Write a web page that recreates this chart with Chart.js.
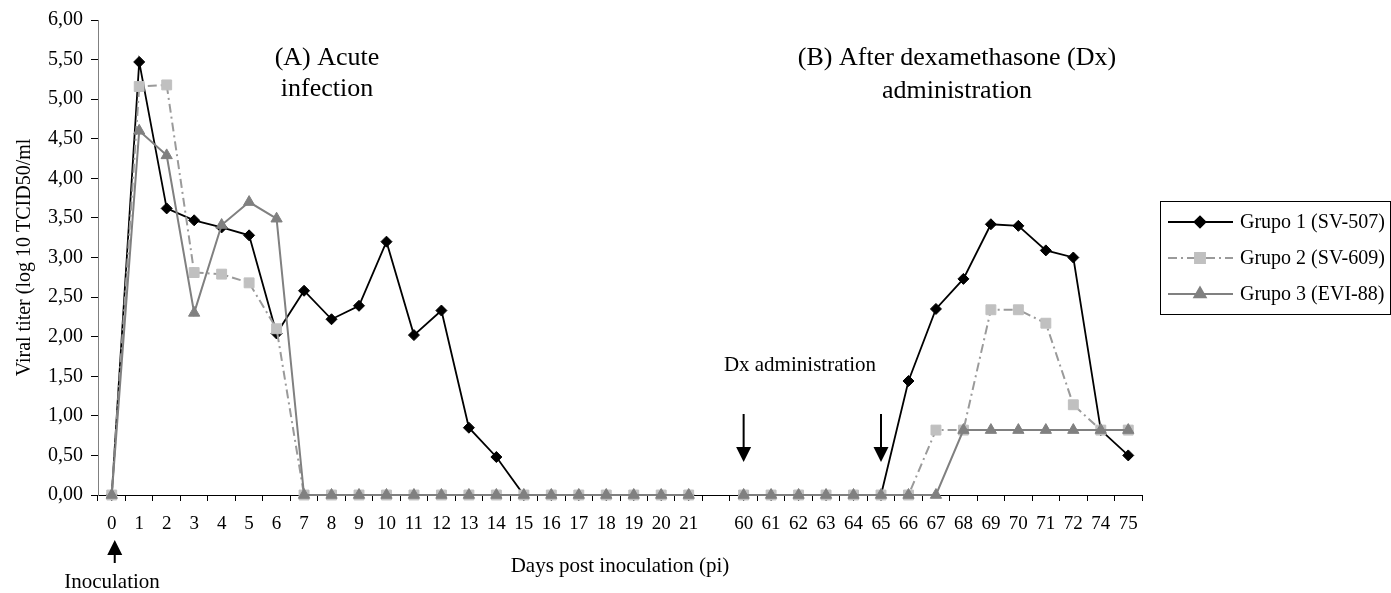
<!DOCTYPE html>
<html>
<head>
<meta charset="utf-8">
<script src="https://cdn.jsdelivr.net/npm/chart.js@4.4.0/dist/chart.umd.min.js"></script>
<style>
  html, body { margin: 0; padding: 0; background: #fff; }
</style>
</head>
<body>
<canvas id="titerChart" width="1391" height="593"></canvas>
<script>
// days post inoculation (empty slot = break between 21 and 60)
const dias = ['0','1','2','3','4','5','6','7','8','9','10','11','12','13','14','15','16','17','18','19','20','21',
              '','60','61','62','63','64','65','66','67','68','69','70','71','72','74','75'];

const grupo1 = [0, 5.47, 3.62, 3.47, 3.38, 3.28, 2.04, 2.58, 2.22, 2.39, 3.20, 2.02, 2.33, 0.85, 0.48, 0, 0, 0, 0, 0, 0, 0,
                null, 0, 0, 0, 0, 0, 0, 1.44, 2.35, 2.73, 3.42, 3.40, 3.09, 3.00, 0.82, 0.50];
const grupo2 = [0, 5.16, 5.18, 2.81, 2.79, 2.68, 2.10, 0, 0, 0, 0, 0, 0, 0, 0, 0, 0, 0, 0, 0, 0, 0,
                null, 0, 0, 0, 0, 0, 0, 0, 0.82, 0.82, 2.34, 2.34, 2.17, 1.14, 0.82, 0.82];
const grupo3 = [0, 4.60, 4.29, 2.30, 3.41, 3.70, 3.49, 0, 0, 0, 0, 0, 0, 0, 0, 0, 0, 0, 0, 0, 0, 0,
                null, 0, 0, 0, 0, 0, 0, 0, 0, 0.82, 0.82, 0.82, 0.82, 0.82, 0.82, 0.82];

const yTickLabels = ['0,00','0,50','1,00','1,50','2,00','2,50','3,00','3,50','4,00','4,50','5,00','5,50','6,00'];

const FONT = "'Liberation Serif', 'Times New Roman', serif";

// texts, arrows and boxed legend
const overlay = {
    id: 'overlay',
    afterDraw(chart) {
        const ctx = chart.ctx;
        const xs = chart.scales.x;
        ctx.save();
        ctx.fillStyle = '#000';
        ctx.textAlign = 'center';
        ctx.textBaseline = 'middle';

        ctx.font = '26px ' + FONT;
        ctx.fillText('(A) Acute', 327, 58);
        ctx.fillText('infection', 327, 89);
        ctx.fillText('(B) After dexamethasone (Dx)', 957, 58);
        ctx.fillText('administration', 957, 91);

        ctx.font = '21px ' + FONT;
        ctx.fillText('Dx administration', 800, 365);
        ctx.fillText('Inoculation', 112, 582);

        function arrow(px, tip, tail) {
            const dir = tip > tail ? 1 : -1;
            const head = 15;
            ctx.strokeStyle = '#000';
            ctx.lineWidth = 2;
            ctx.beginPath();
            ctx.moveTo(px, tail);
            ctx.lineTo(px, tip - dir * head);
            ctx.stroke();
            ctx.beginPath();
            ctx.moveTo(px - 7.5, tip - dir * head);
            ctx.lineTo(px + 7.5, tip - dir * head);
            ctx.lineTo(px, tip);
            ctx.closePath();
            ctx.fill();
        }
        arrow(xs.getPixelForValue(dias.indexOf('60')), 462, 414);
        arrow(xs.getPixelForValue(dias.indexOf('65')), 462, 414);
        arrow(xs.getPixelForValue(0) + 3, 540, 563);

        // legend
        const lx = 1160, ly = 201, lw = 230, lh = 113;
        ctx.lineWidth = 1;
        ctx.strokeStyle = '#000';
        ctx.strokeRect(lx + 0.5, ly + 0.5, lw, lh);
        ctx.textAlign = 'left';
        ctx.font = '20px ' + FONT;
        chart.data.datasets.forEach((ds, i) => {
            const ry = 222 + i * 36;
            ctx.strokeStyle = ds.borderColor;
            ctx.lineWidth = ds.borderWidth;
            ctx.setLineDash(ds.borderDash || []);
            ctx.beginPath();
            ctx.moveTo(1168, ry);
            ctx.lineTo(1233, ry);
            ctx.stroke();
            ctx.setLineDash([]);
            ctx.fillStyle = ds.pointBackgroundColor;
            ctx.strokeStyle = ds.pointBorderColor;
            Chart.helpers.drawPoint(ctx, { pointStyle: ds.pointStyle, radius: ds.pointRadius, borderWidth: 1, rotation: 0 }, 1200, ry);
            ctx.fillStyle = '#000';
            ctx.fillText(ds.label, 1240, ry + 1);
        });
        ctx.restore();
    }
};

const ctx = document.getElementById('titerChart').getContext('2d');

new Chart(ctx, {
    type: 'line',
    data: {
        labels: dias,
        datasets: [
            {
                label: 'Grupo 1 (SV-507)',
                data: grupo1,
                borderColor: '#000',
                borderWidth: 1.8,
                pointStyle: 'rectRot',
                pointRadius: 5.5,
                pointBackgroundColor: '#000',
                pointBorderColor: '#000',
                pointBorderWidth: 1,
                tension: 0,
                clip: false,
                order: 3
            },
            {
                label: 'Grupo 2 (SV-609)',
                data: grupo2,
                borderColor: '#9a9a9a',
                borderWidth: 2,
                borderDash: [9, 4, 2, 4],
                pointStyle: 'rect',
                pointRadius: 7,
                pointBackgroundColor: '#c0c0c0',
                pointBorderColor: '#c0c0c0',
                pointBorderWidth: 1,
                tension: 0,
                clip: false,
                order: 2
            },
            {
                label: 'Grupo 3 (EVI-88)',
                data: grupo3,
                borderColor: '#808080',
                borderWidth: 2,
                pointStyle: 'triangle',
                pointRadius: 6.5,
                pointBackgroundColor: '#808080',
                pointBorderColor: '#808080',
                pointBorderWidth: 1,
                tension: 0,
                clip: false,
                order: 1
            }
        ]
    },
    options: {
        responsive: false,
        animation: false,
        spanGaps: false,
        layout: { padding: { top: 20, right: 249, left: 0, bottom: 0 } },
        plugins: {
            legend: { display: false },
            tooltip: { enabled: false }
        },
        scales: {
            x: {
                type: 'category',
                offset: true,
                afterFit: function(scale) { scale.height = 98; },
                grid: { offset: true, drawOnChartArea: false, drawTicks: true, tickLength: 6, color: '#000' },
                border: { display: true, color: '#000', width: 1 },
                ticks: {
                    autoSkip: false,
                    maxRotation: 0,
                    padding: 12,
                    color: '#000',
                    font: { family: FONT, size: 19 }
                },
                title: {
                    display: true,
                    text: 'Days post inoculation (pi)',
                    color: '#000',
                    font: { family: FONT, size: 21 },
                    padding: { top: 0, bottom: 14 }
                }
            },
            y: {
                min: 0,
                max: 6,
                afterFit: function(scale) { scale.width = 98; },
                grid: { drawOnChartArea: false, drawTicks: true, tickLength: 7, color: '#000' },
                border: { display: true, color: '#808080', width: 1 },
                ticks: {
                    stepSize: 0.5,
                    padding: 8,
                    color: '#000',
                    font: { family: FONT, size: 20 },
                    callback: function(value) { return yTickLabels[Math.round(value * 2)]; }
                },
                title: {
                    display: true,
                    text: 'Viral titer (log 10 TCID50/ml',
                    color: '#000',
                    font: { family: FONT, size: 20 },
                    padding: { top: 13, bottom: 0 }
                }
            }
        }
    },
    plugins: [overlay]
});
</script>
</body>
</html>
